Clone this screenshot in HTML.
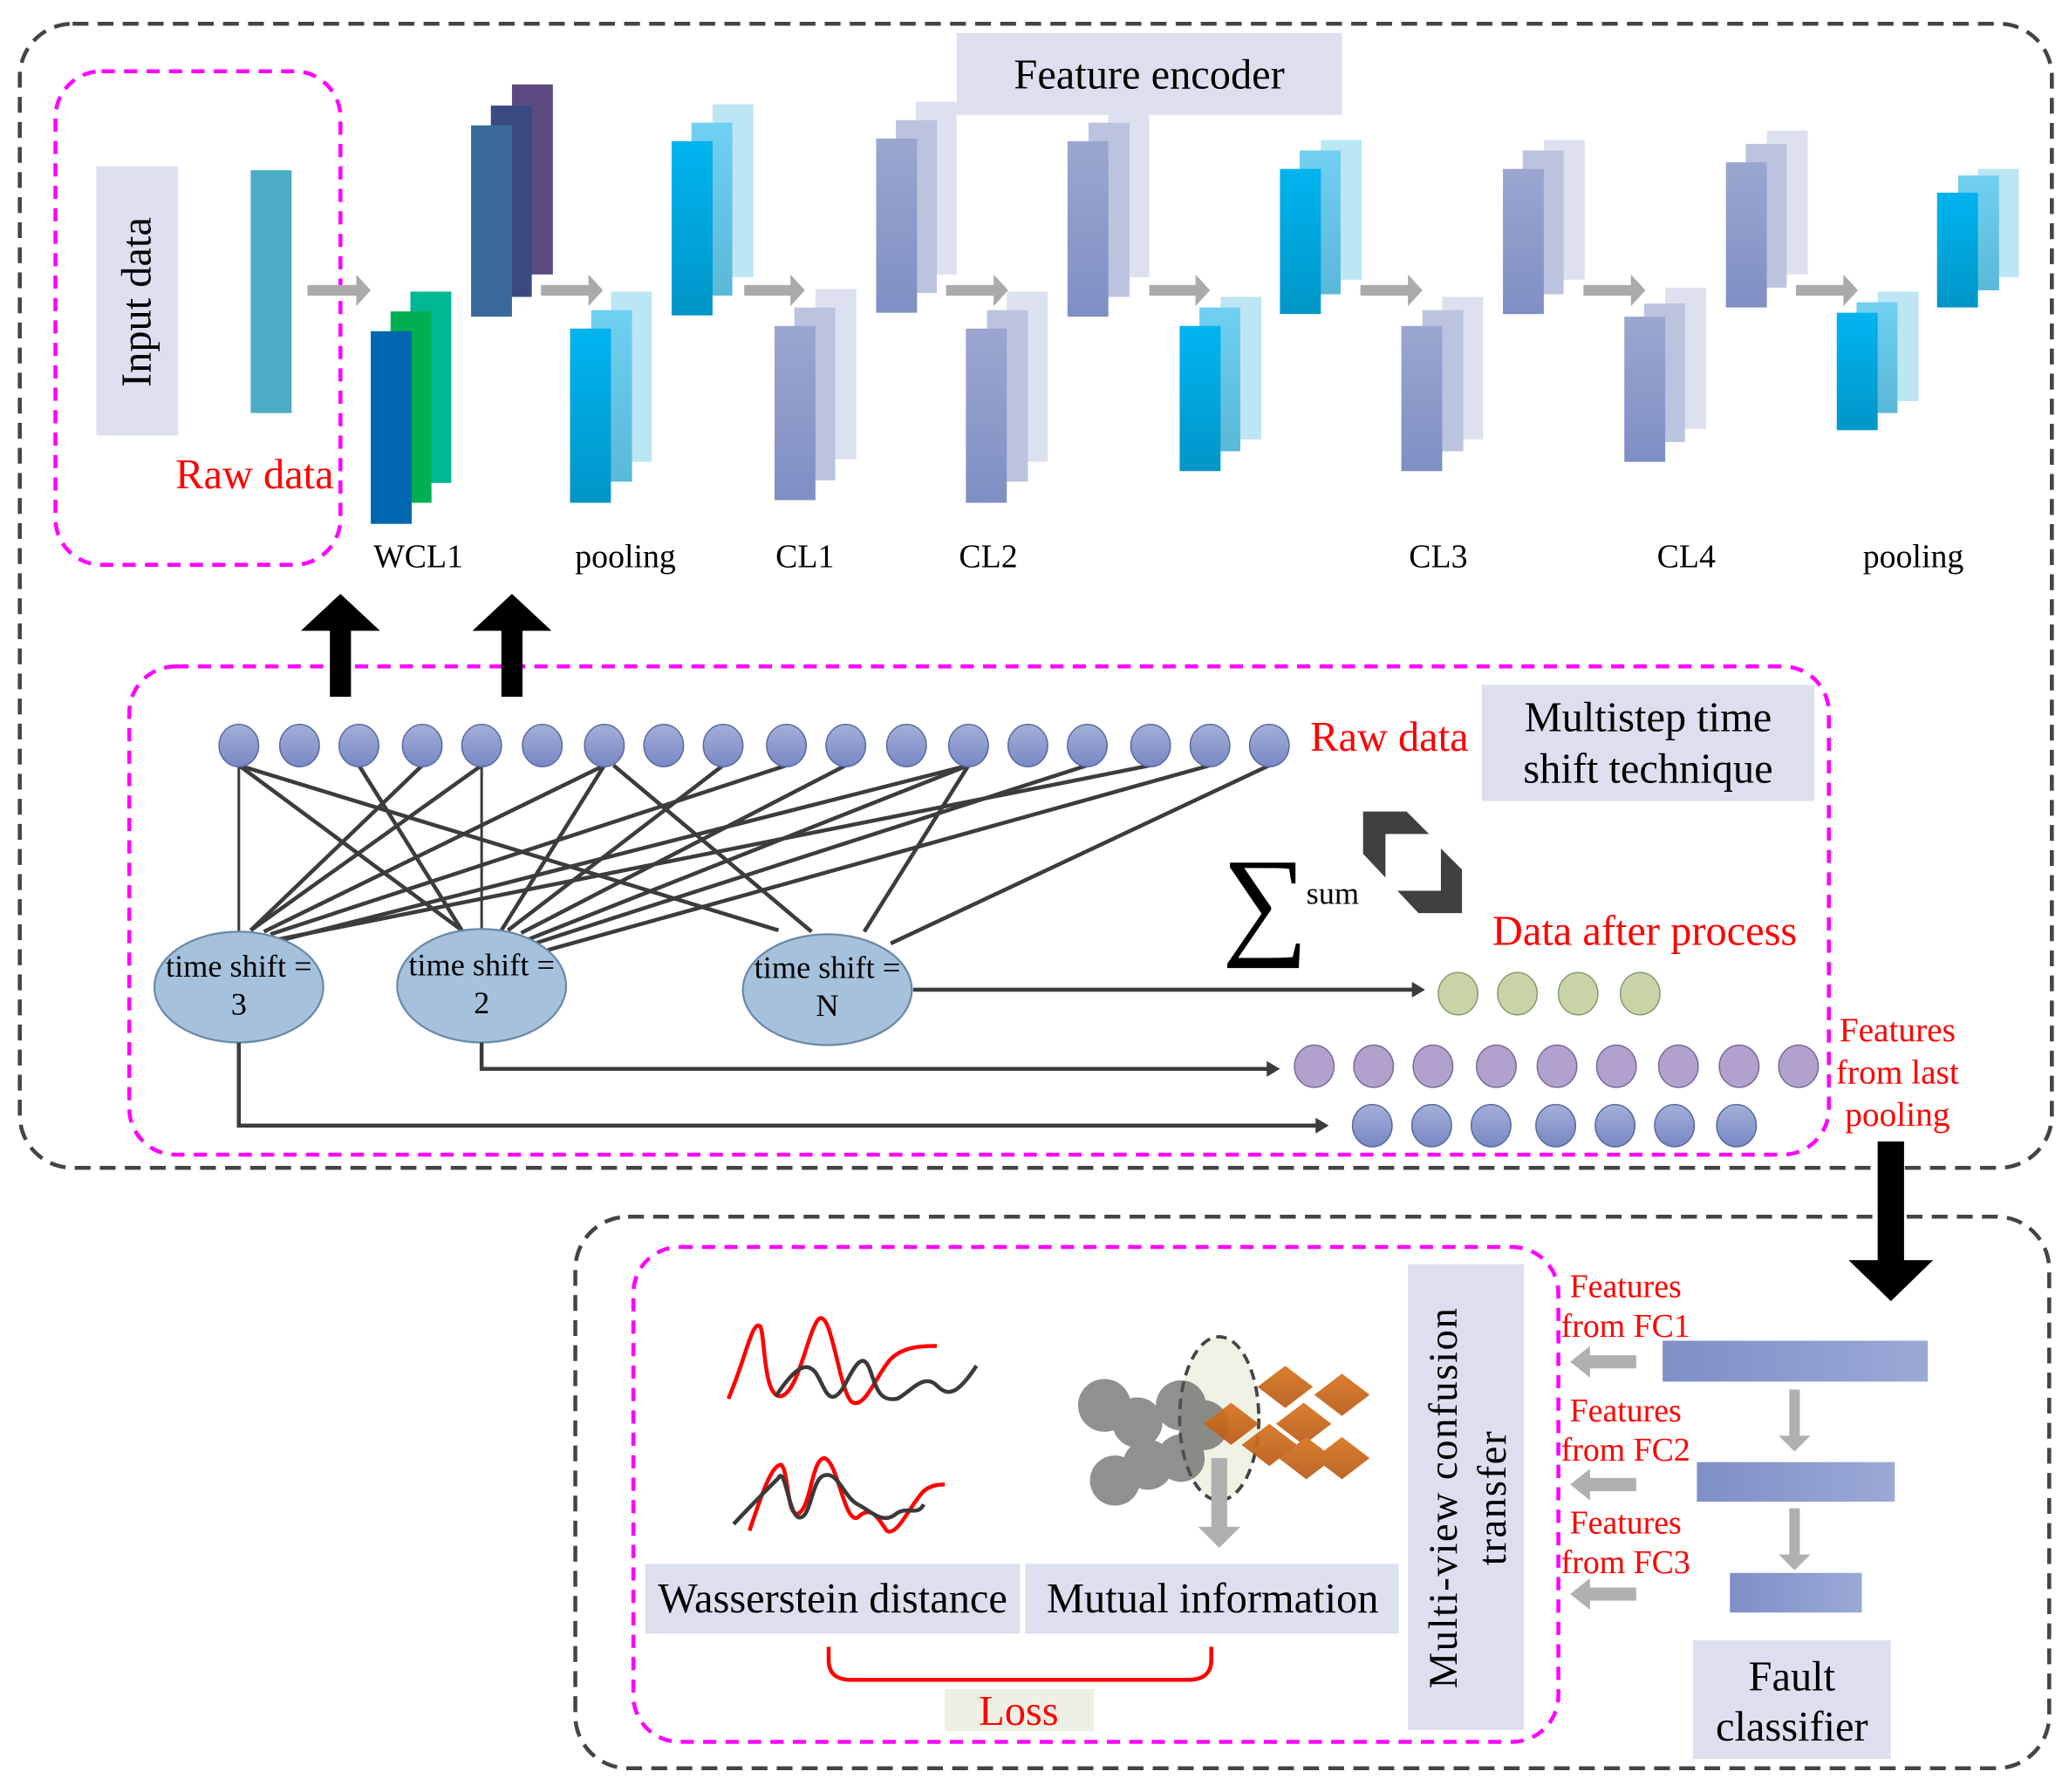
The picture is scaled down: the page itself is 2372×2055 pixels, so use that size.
<!DOCTYPE html>
<html><head><meta charset="utf-8"><style>
html,body{margin:0;padding:0;background:#fff;}
svg{display:block;}
text{font-family:"Liberation Serif",serif;}
</style></head><body>
<svg width="2372" height="2055" viewBox="0 0 1568 1358" preserveAspectRatio="none" xmlns="http://www.w3.org/2000/svg">
<defs>
<linearGradient id="cy" x1="0" y1="0" x2="0" y2="1"><stop offset="0" stop-color="#00b4f0"/><stop offset="1" stop-color="#0096c8"/></linearGradient>
<linearGradient id="cy2" x1="0" y1="0" x2="0" y2="1"><stop offset="0" stop-color="#6fd0f2"/><stop offset="1" stop-color="#5ab8d8"/></linearGradient>
<linearGradient id="pu" x1="0" y1="0" x2="0" y2="1"><stop offset="0" stop-color="#9ba6d0"/><stop offset="1" stop-color="#7f8fc4"/></linearGradient>
<linearGradient id="fc" x1="0" y1="0" x2="1" y2="0"><stop offset="0" stop-color="#7f8fc8"/><stop offset="1" stop-color="#9aa9d6"/></linearGradient>
<linearGradient id="rc" x1="0" y1="0" x2="0" y2="1"><stop offset="0" stop-color="#a4afd8"/><stop offset="1" stop-color="#7888c4"/></linearGradient>
<linearGradient id="or" x1="0" y1="0" x2="0" y2="1"><stop offset="0" stop-color="#d8741c"/><stop offset="1" stop-color="#b85a18"/></linearGradient>
</defs>

<rect x="15" y="18" width="1540" height="867" rx="40" fill="none" stroke="#444" stroke-width="3" stroke-dasharray="12,7"/>
<rect x="436" y="922" width="1117" height="418" rx="40" fill="none" stroke="#444" stroke-width="3" stroke-dasharray="12,7"/>
<rect x="42" y="54" width="216" height="374" rx="35" fill="none" stroke="#f0f" stroke-width="3" stroke-dasharray="10,7"/>
<rect x="98" y="505" width="1288" height="370" rx="35" fill="none" stroke="#f0f" stroke-width="3" stroke-dasharray="10,7"/>
<rect x="480" y="945" width="701" height="375" rx="35" fill="none" stroke="#f0f" stroke-width="3" stroke-dasharray="10,7"/>

<rect x="73" y="126" width="62" height="204" fill="#dce0ee"/>
<text transform="translate(114,229) rotate(-90)" font-size="32" text-anchor="middle">Input data</text>
<rect x="190" y="129" width="31" height="184" fill="#4bacc6"/>
<text x="133" y="370" font-size="32" fill="#f00">Raw data</text>

<rect x="311" y="221" width="31" height="145" fill="#00b894"/>
<rect x="296" y="236" width="31" height="145" fill="#00b050"/>
<rect x="281" y="251" width="31" height="146" fill="#0068b0"/>
<rect x="388" y="64" width="31" height="144" fill="#5a4a80"/>
<rect x="372" y="80" width="31" height="145" fill="#3a4a80"/>
<rect x="357" y="95" width="31" height="145" fill="#3a6a9a"/>

<g>
<rect x="463" y="221" width="31" height="129" fill="#bde6f4"/><rect x="448" y="235" width="31" height="130" fill="url(#cy2)"/><rect x="432" y="249" width="31" height="132" fill="url(#cy)"/>
<rect x="540" y="79" width="31" height="131" fill="#bde6f4"/><rect x="524" y="93" width="31" height="131" fill="url(#cy2)"/><rect x="509" y="107" width="31" height="132" fill="url(#cy)"/>
<rect x="925" y="225" width="31" height="108" fill="#bde6f4"/><rect x="909" y="233" width="31" height="109" fill="url(#cy2)"/><rect x="894" y="247" width="31" height="110" fill="url(#cy)"/>
<rect x="1001" y="106" width="31" height="106" fill="#bde6f4"/><rect x="985" y="114" width="31" height="109" fill="url(#cy2)"/><rect x="970" y="128" width="31" height="110" fill="url(#cy)"/>
<rect x="1423" y="221" width="31" height="83" fill="#bde6f4"/><rect x="1407" y="229" width="31" height="84" fill="url(#cy2)"/><rect x="1392" y="237" width="31" height="89" fill="url(#cy)"/>
<rect x="1499" y="128" width="31" height="82" fill="#bde6f4"/><rect x="1484" y="133" width="31" height="87" fill="url(#cy2)"/><rect x="1468" y="146" width="31" height="87" fill="url(#cy)"/>
<rect x="618" y="219" width="31" height="129" fill="#dde0ee"/><rect x="602" y="233" width="31" height="131" fill="#bcc3de"/><rect x="587" y="247" width="31" height="132" fill="url(#pu)"/>
<rect x="694" y="77" width="31" height="131" fill="#dde0ee"/><rect x="679" y="91" width="31" height="131" fill="#bcc3de"/><rect x="664" y="105" width="31" height="132" fill="url(#pu)"/>
<rect x="763" y="221" width="31" height="129" fill="#dde0ee"/><rect x="748" y="235" width="31" height="130" fill="#bcc3de"/><rect x="732" y="249" width="31" height="132" fill="url(#pu)"/>
<rect x="840" y="79" width="31" height="131" fill="#dde0ee"/><rect x="825" y="93" width="31" height="132" fill="#bcc3de"/><rect x="809" y="107" width="31" height="133" fill="url(#pu)"/>
<rect x="1093" y="225" width="31" height="108" fill="#dde0ee"/><rect x="1078" y="235" width="31" height="107" fill="#bcc3de"/><rect x="1062" y="247" width="31" height="110" fill="url(#pu)"/>
<rect x="1170" y="106" width="31" height="106" fill="#dde0ee"/><rect x="1154" y="114" width="31" height="109" fill="#bcc3de"/><rect x="1139" y="128" width="31" height="110" fill="url(#pu)"/>
<rect x="1262" y="218" width="31" height="107" fill="#dde0ee"/><rect x="1246" y="230" width="31" height="105" fill="#bcc3de"/><rect x="1231" y="240" width="31" height="110" fill="url(#pu)"/>
<rect x="1339" y="99" width="31" height="109" fill="#dde0ee"/><rect x="1323" y="109" width="31" height="109" fill="#bcc3de"/><rect x="1308" y="123" width="31" height="110" fill="url(#pu)"/>
</g>
<rect x="725" y="25" width="292" height="62" fill="#dce0ee"/>
<text x="871" y="67" font-size="32" text-anchor="middle">Feature encoder</text>

<g fill="#aaa">
<polygon points="233,216 270,216 270,208 281,220 270,232 270,224 233,224"/>
<polygon points="410,216 446,216 446,208 457,220 446,232 446,224 410,224"/>
<polygon points="564,216 599,216 599,208 610,220 599,232 599,224 564,224"/>
<polygon points="717,216 753,216 753,208 764,220 753,232 753,224 717,224"/>
<polygon points="871,216 906,216 906,208 917,220 906,232 906,224 871,224"/>
<polygon points="1031,216 1067,216 1067,208 1078,220 1067,232 1067,224 1031,224"/>
<polygon points="1200,216 1236,216 1236,208 1247,220 1236,232 1236,224 1200,224"/>
<polygon points="1361,216 1397,216 1397,208 1408,220 1397,232 1397,224 1361,224"/>
</g>

<g font-size="25" text-anchor="middle">
<text x="317" y="430">WCL1</text><text x="474" y="430">pooling</text><text x="610" y="430">CL1</text><text x="749" y="430">CL2</text><text x="1090" y="430">CL3</text><text x="1278" y="430">CL4</text><text x="1450" y="430">pooling</text>
</g>

<polygon points="250,528 266,528 266,478 288,478 258,450 228,478 250,478" fill="#000"/>
<polygon points="380,528 396,528 396,478 418,478 388,450 358,478 380,478" fill="#000"/>

<g stroke="#3c3c3c" stroke-width="3">
<line x1="181" y1="580" x2="181" y2="706" stroke-width="2"/>
<line x1="181" y1="580" x2="350" y2="705"/>
<line x1="181" y1="580" x2="590" y2="705"/>
<line x1="272" y1="580" x2="350" y2="705"/>
<line x1="320" y1="580" x2="190" y2="705"/>
<line x1="365" y1="580" x2="190" y2="705"/>
<line x1="365" y1="580" x2="365" y2="705" stroke-width="2"/>
<line x1="458" y1="580" x2="200" y2="706"/>
<line x1="458" y1="580" x2="380" y2="705"/>
<line x1="465" y1="580" x2="615" y2="706"/>
<line x1="548" y1="580" x2="385" y2="705"/>
<line x1="596" y1="580" x2="205" y2="708"/>
<line x1="641" y1="580" x2="395" y2="707"/>
<line x1="734" y1="580" x2="215" y2="712"/>
<line x1="734" y1="580" x2="400" y2="712"/>
<line x1="734" y1="580" x2="655" y2="706"/>
<line x1="824" y1="580" x2="405" y2="715"/>
<line x1="872" y1="580" x2="210" y2="712"/>
<line x1="917" y1="580" x2="415" y2="720"/>
<line x1="962" y1="580" x2="675" y2="715"/>
</g>

<g fill="url(#rc)" stroke="#5a6aa0" stroke-width="1">
<ellipse cx="181" cy="565" rx="15" ry="16"/><ellipse cx="227" cy="565" rx="15" ry="16"/><ellipse cx="272" cy="565" rx="15" ry="16"/><ellipse cx="320" cy="565" rx="15" ry="16"/><ellipse cx="365" cy="565" rx="15" ry="16"/><ellipse cx="411" cy="565" rx="15" ry="16"/><ellipse cx="458" cy="565" rx="15" ry="16"/><ellipse cx="503" cy="565" rx="15" ry="16"/><ellipse cx="548" cy="565" rx="15" ry="16"/><ellipse cx="596" cy="565" rx="15" ry="16"/><ellipse cx="641" cy="565" rx="15" ry="16"/><ellipse cx="687" cy="565" rx="15" ry="16"/><ellipse cx="734" cy="565" rx="15" ry="16"/><ellipse cx="779" cy="565" rx="15" ry="16"/><ellipse cx="824" cy="565" rx="15" ry="16"/><ellipse cx="872" cy="565" rx="15" ry="16"/><ellipse cx="917" cy="565" rx="15" ry="16"/><ellipse cx="962" cy="565" rx="15" ry="16"/>
</g>
<text x="993" y="569" font-size="32" fill="#f00">Raw data</text>
<rect x="1123" y="519" width="252" height="88" fill="#dce0ee"/>
<text x="1249" y="554" font-size="32" text-anchor="middle">Multistep time</text>
<text x="1249" y="593" font-size="32" text-anchor="middle">shift technique</text>

<g fill="#a6c1dc" stroke="#6a8aa8" stroke-width="1.5">
<ellipse cx="181" cy="748" rx="64" ry="42"/><ellipse cx="365" cy="747" rx="64" ry="43"/><ellipse cx="627" cy="750" rx="64" ry="42"/>
</g>
<g font-size="24" text-anchor="middle">
<text x="181" y="740">time shift =</text><text x="181" y="769">3</text>
<text x="365" y="739">time shift =</text><text x="365" y="768">2</text>
<text x="627" y="741">time shift =</text><text x="627" y="770">N</text>
</g>

<text x="926" y="714" font-size="92">∑</text>
<text x="990" y="685" font-size="24">sum</text>
<polygon points="1033,615 1066,615 1083,632 1050,632 1050,665 1033,647" fill="#404040"/>
<polygon points="1092,643 1108,659 1108,692 1075,692 1059,675 1092,675" fill="#404040"/>
<text x="1131" y="716" font-size="32" fill="#f00">Data after process</text>

<g stroke="#3c3c3c" stroke-width="3" fill="none">
<line x1="692" y1="750" x2="1072" y2="750"/>
<polyline points="365,790 365,810 962,810"/>
<polyline points="181,790 181,853 998,853"/>
</g>
<g fill="#3c3c3c">
<polygon points="1080,750 1070,744 1070,756"/>
<polygon points="970,810 960,804 960,816"/>
<polygon points="1007,853 997,847 997,859"/>
</g>

<g fill="#c8d4a8" stroke="#8a9a70"><ellipse cx="1105" cy="753" rx="15" ry="16"/><ellipse cx="1150" cy="753" rx="15" ry="16"/><ellipse cx="1196" cy="753" rx="15" ry="16"/><ellipse cx="1243" cy="753" rx="15" ry="16"/></g>
<g fill="#b0a2cc" stroke="#7a6a9a"><ellipse cx="996" cy="808" rx="15" ry="16"/><ellipse cx="1041" cy="808" rx="15" ry="16"/><ellipse cx="1086" cy="808" rx="15" ry="16"/><ellipse cx="1134" cy="808" rx="15" ry="16"/><ellipse cx="1180" cy="808" rx="15" ry="16"/><ellipse cx="1225" cy="808" rx="15" ry="16"/><ellipse cx="1272" cy="808" rx="15" ry="16"/><ellipse cx="1318" cy="808" rx="15" ry="16"/><ellipse cx="1363" cy="808" rx="15" ry="16"/></g>
<g fill="url(#rc)" stroke="#5a6aa0"><ellipse cx="1040" cy="853" rx="15" ry="16"/><ellipse cx="1085" cy="853" rx="15" ry="16"/><ellipse cx="1130" cy="853" rx="15" ry="16"/><ellipse cx="1179" cy="853" rx="15" ry="16"/><ellipse cx="1224" cy="853" rx="15" ry="16"/><ellipse cx="1269" cy="853" rx="15" ry="16"/><ellipse cx="1316" cy="853" rx="15" ry="16"/></g>
<g font-size="26" fill="#f00" text-anchor="middle"><text x="1438" y="789">Features</text><text x="1438" y="821">from last</text><text x="1438" y="853">pooling</text></g>

<polygon points="1423,865 1443,865 1443,955 1465,955 1433,986 1401,955 1423,955" fill="#000"/>

<g fill="none" stroke-width="3">
<path d="M552,1060 C565,1030 570,1000 576,1005 C580,1010 578,1060 592,1058 C605,1055 612,1010 620,1000 C630,990 635,1050 645,1062 C655,1070 665,1040 675,1030 C685,1020 700,1020 710,1020" stroke="#f00"/>
<path d="M588,1058 C600,1040 610,1030 618,1040 C625,1050 628,1070 640,1050 C650,1030 655,1025 660,1040 C665,1055 668,1062 680,1060 C690,1055 700,1040 710,1050 C718,1058 725,1058 740,1035" stroke="#3a3a3a"/>
<path d="M568,1160 C578,1130 585,1110 592,1110 C598,1115 596,1150 605,1147 C615,1142 615,1105 625,1105 C635,1108 640,1155 650,1150 C660,1140 665,1150 672,1160 C680,1165 690,1140 700,1130 C706,1125 712,1125 716,1125" stroke="#f00"/>
<path d="M556,1155 C570,1140 580,1130 590,1120 C595,1110 598,1150 606,1150 C615,1150 615,1120 625,1118 C635,1115 640,1135 650,1140 C660,1145 668,1155 678,1148 C688,1140 695,1150 700,1140" stroke="#3a3a3a"/>
</g>
<ellipse cx="924" cy="1075" rx="30" ry="62" fill="#eff1e4" stroke="#444" stroke-width="2.5" stroke-dasharray="8,5"/>
<g fill="#555" opacity="0.65">
<circle cx="837" cy="1065" r="20"/><circle cx="862" cy="1078" r="19"/><circle cx="895" cy="1065" r="19"/><circle cx="870" cy="1110" r="19"/><circle cx="845" cy="1122" r="19"/><circle cx="895" cy="1105" r="18"/><circle cx="912" cy="1080" r="19"/>
</g>
<g fill="url(#or)" opacity="0.92">
<polygon points="974,1035 995,1051 974,1067 953,1051"/>
<polygon points="1017,1041 1038,1057 1017,1073 996,1057"/>
<polygon points="988,1063 1009,1079 988,1095 967,1079"/>
<polygon points="990,1089 1011,1105 990,1121 969,1105"/>
<polygon points="1017,1089 1038,1105 1017,1121 996,1105"/>
<polygon points="962,1079 983,1095 962,1111 941,1095"/>
<polygon points="933,1063 954,1079 933,1095 912,1079"/>
</g>
<polygon points="918,1105 930,1105 930,1157 940,1157 924,1173 908,1157 918,1157" fill="#b0b0b0"/>

<rect x="489" y="1185" width="284" height="53" fill="#dce0ee"/>
<rect x="777" y="1185" width="283" height="53" fill="#dce0ee"/>
<text x="631" y="1222" font-size="32" text-anchor="middle">Wasserstein distance</text>
<text x="919" y="1222" font-size="32" text-anchor="middle">Mutual information</text>
<path d="M628,1248 L628,1258 Q628,1273 645,1273 L900,1273 Q918,1273 918,1258 L918,1248" fill="none" stroke="#f00" stroke-width="3"/>
<rect x="716" y="1280" width="113" height="32" fill="#eef0e6"/>
<text x="772" y="1307" font-size="32" fill="#f00" text-anchor="middle">Loss</text>

<rect x="1067" y="958" width="88" height="353" fill="#dce0ee"/>
<text transform="translate(1104,1135) rotate(-90)" font-size="31" text-anchor="middle" letter-spacing="1">Multi-view confusion</text>
<text transform="translate(1141,1135) rotate(-90)" font-size="31" text-anchor="middle" letter-spacing="1">transfer</text>

<g font-size="25" fill="#f00" text-anchor="middle">
<text x="1232" y="983">Features</text><text x="1232" y="1013">from FC1</text>
<text x="1232" y="1077">Features</text><text x="1232" y="1107">from FC2</text>
<text x="1232" y="1162">Features</text><text x="1232" y="1192">from FC3</text>
</g>
<g fill="#b0b0b0">
<polygon points="1240,1027 1205,1027 1205,1020 1190,1032 1205,1044 1205,1037 1240,1037"/>
<polygon points="1240,1120 1205,1120 1205,1113 1190,1125 1205,1137 1205,1130 1240,1130"/>
<polygon points="1240,1203 1205,1203 1205,1196 1190,1208 1205,1220 1205,1213 1240,1213"/>
<polygon points="1356,1053 1364,1053 1364,1088 1372,1088 1360,1100 1348,1088 1356,1088"/>
<polygon points="1356,1143 1364,1143 1364,1178 1372,1178 1360,1190 1348,1178 1356,1178"/>
</g>
<rect x="1260" y="1016" width="201" height="31" fill="url(#fc)"/>
<rect x="1286" y="1108" width="150" height="30" fill="url(#fc)"/>
<rect x="1311" y="1192" width="100" height="30" fill="url(#fc)"/>
<rect x="1283" y="1243" width="150" height="90" fill="#dce0ee"/>
<text x="1358" y="1281" font-size="32" text-anchor="middle">Fault</text>
<text x="1358" y="1319" font-size="32" text-anchor="middle">classifier</text>
</svg>
</body></html>
